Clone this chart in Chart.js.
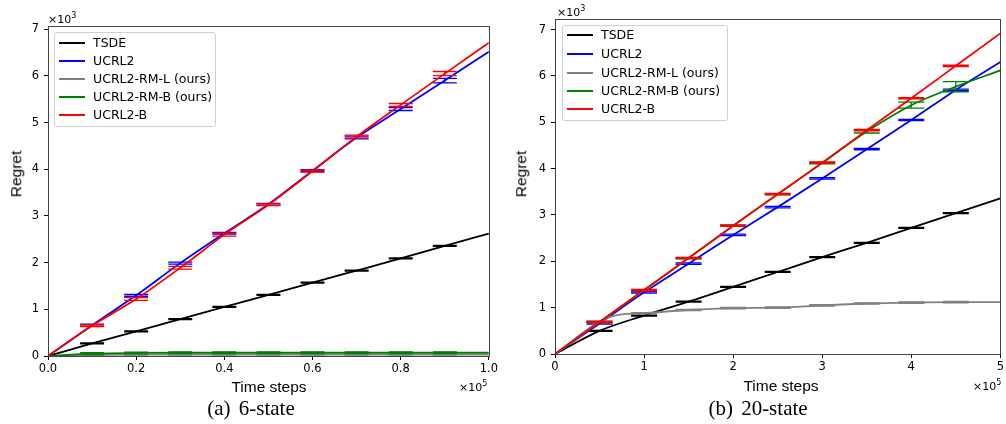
<!DOCTYPE html>
<html>
<head>
<meta charset="utf-8">
<script src="https://cdn.jsdelivr.net/npm/chart.js@4.4.0/dist/chart.umd.min.js"></script>
<style>
  body { margin: 0; width: 1006px; height: 424px; background: #fff; position: relative; overflow: hidden; font-family: "DejaVu Sans", sans-serif; }
  .cv { position: absolute; top: 0; }
  .t { position: absolute; white-space: nowrap; line-height: 1; transform: translate(-50%, -50%); color: #000; }
  .lab { font-family: "Liberation Sans", Arial, sans-serif; font-size: 15.5px; }
  .rot { transform: translate(-50%, -50%) rotate(-90deg); }
  .cap { font-family: "Liberation Serif", "Times New Roman", serif; font-size: 21px; word-spacing: 3px; }
  .exp { position: absolute; font-size: 11px; line-height: 1; white-space: nowrap; }
  .exp sup { font-size: 8px; vertical-align: 5px; }
  .legend { position: absolute; background: rgba(255,255,255,0.85); border: 1px solid #d0d0d0; border-radius: 3px; font-size: 12.5px; box-sizing: border-box; }
  .legend .row { position: absolute; left: 0; height: 18px; line-height: 18px; white-space: nowrap; }
  .legend .sw { position: absolute; left: 4px; top: 8px; width: 26px; height: 2px; }
  .legend .tx { position: absolute; left: 38px; top: 0; }
</style>
</head>
<body>
<canvas id="c6" class="cv" style="left:0px" width="500" height="424"></canvas>
<canvas id="c20" class="cv" style="left:500px" width="506" height="424"></canvas>

<div class="exp" style="left:48px;top:12px">×10<sup>3</sup></div>
<div class="exp" style="left:557px;top:5px">×10<sup>3</sup></div>
<div class="exp" style="left:459px;top:380px">×10<sup>5</sup></div>
<div class="exp" style="left:973px;top:379px">×10<sup>5</sup></div>

<div class="t lab rot" style="left:16px;top:174px">Regret</div>
<div class="t lab rot" style="left:521px;top:174px">Regret</div>
<div class="t lab" style="left:269px;top:387px">Time steps</div>
<div class="t lab" style="left:781px;top:386px">Time steps</div>
<div class="t cap" style="left:251px;top:408px">(a) 6-state</div>
<div class="t cap" style="left:758px;top:408px">(b) 20-state</div>

<div id="leg6" class="legend" style="left:54px;top:32px;width:162px;height:95px"></div>
<div id="leg20" class="legend" style="left:562px;top:25px;width:166px;height:96px"></div>

<script>
// series names and colours (same order in both panels)
const NAMES = ["TSDE", "UCRL2", "UCRL2-RM-L (ours)", "UCRL2-RM-B (ours)", "UCRL2-B"];
const COLORS = ["#000000", "#0000ff", "#808080", "#008000", "#ff0000"];

// ---------- (a) 6-state : x in 1e5 steps, y in 1e3 regret ----------
const steps6 = [0, 0.1, 0.2, 0.3, 0.4, 0.5, 0.6, 0.7, 0.8, 0.9, 1.0];
const tsde6  = [0, 0.27, 0.53, 0.79, 1.05, 1.31, 1.57, 1.83, 2.09, 2.36, 2.62];
const ucrl6  = [0, 0.66, 1.30, 1.99, 2.63, 3.25, 3.97, 4.68, 5.29, 5.90, 6.52];
const rml6   = [0, 0.025, 0.03, 0.03, 0.03, 0.03, 0.03, 0.03, 0.03, 0.03, 0.03];
const rmb6   = [0, 0.05, 0.065, 0.07, 0.07, 0.07, 0.07, 0.07, 0.07, 0.07, 0.07];
const ucrlb6 = [0, 0.65, 1.22, 1.89, 2.60, 3.24, 3.96, 4.70, 5.38, 6.05, 6.71];
const tsde6Err  = [null, 0.01, 0.01, 0.01, 0.01, 0.01, 0.01, 0.01, 0.01, 0.01, null];
const ucrl6Err  = [null, 0.02, 0.02, 0.02, 0.02, 0.02, 0.02, 0.03, 0.03, 0.05, null];
const rml6Err   = [null, 0.01, 0.01, 0.01, 0.01, 0.01, 0.01, 0.01, 0.01, 0.01, null];
const rmb6Err   = [null, 0.02, 0.02, 0.02, 0.02, 0.02, 0.02, 0.02, 0.02, 0.02, null];
const ucrlb6Err = [null, 0.02, 0.03, 0.03, 0.03, 0.02, 0.02, 0.03, 0.03, 0.045, null];
const xTicks6 = [0, 0.2, 0.4, 0.6, 0.8, 1.0];
const yTicks6 = [0, 1, 2, 3, 4, 5, 6, 7];

// ---------- (b) 20-state : x in 1e5 steps, y in 1e3 regret ----------
const steps20 = [0, 0.5, 1, 1.5, 2, 2.5, 3, 3.5, 4, 4.5, 5];
const tsde20  = [0, 0.50, 0.83, 1.13, 1.45, 1.77, 2.09, 2.40, 2.72, 3.04, 3.36];
const ucrl20  = [0, 0.66, 1.33, 1.95, 2.57, 3.17, 3.79, 4.42, 5.05, 5.70, 6.30];
const rmb20   = [0, 0.69, 1.38, 2.07, 2.77, 3.45, 4.12, 4.80, 5.37, 5.77, 6.12];
const ucrlb20 = [0, 0.69, 1.38, 2.07, 2.77, 3.45, 4.13, 4.83, 5.52, 6.22, 6.92];
const rmlSteps20 = [0, 0.5, 0.65, 1, 1.5, 2, 2.5, 3, 3.5, 4, 4.5, 5];
const rml20      = [0, 0.70, 0.82, 0.88, 0.95, 0.99, 1.00, 1.05, 1.09, 1.11, 1.12, 1.12];
const tsde20Err  = [null, 0.01, 0.01, 0.01, 0.01, 0.01, 0.01, 0.01, 0.01, 0.01, null];
const ucrl20Err  = [null, 0.015, 0.015, 0.015, 0.015, 0.015, 0.015, 0.015, 0.015, 0.015, null];
const rml20Err   = [null, 0.015, null, 0.015, 0.015, 0.015, 0.015, 0.015, 0.015, 0.015, 0.015, null];
const rmb20Err   = [null, 0.01, 0.01, 0.01, 0.01, 0.01, 0.015, 0.03, 0.065, 0.11, null];
const ucrlb20Err = [null, 0.015, 0.015, 0.015, 0.015, 0.015, 0.015, 0.015, 0.015, 0.015, null];
const xTicks20 = [0, 1, 2, 3, 4, 5];
const yTicks20 = [0, 1, 2, 3, 4, 5, 6, 7];

// error bars drawn right after each line, so they share its stacking
const errorBars = {
  id: "errorBars",
  afterDatasetDraw(chart, args, opts) {
    const ds = chart.data.datasets[args.index];
    if (!ds.err) return;
    const ctx = chart.ctx, xs = chart.scales.x, ys = chart.scales.y;
    ctx.save();
    ctx.strokeStyle = ds.borderColor;
    ctx.lineWidth = 1.3;
    ds.data.forEach((p, i) => {
      const e = ds.err[i];
      if (e == null) return;
      const px = xs.getPixelForValue(p.x);
      const hi = ys.getPixelForValue(p.y + e);
      const lo = ys.getPixelForValue(p.y - e);
      ctx.beginPath();
      ctx.moveTo(px, hi); ctx.lineTo(px, lo);
      ctx.moveTo(px - opts.cap, hi); ctx.lineTo(px + opts.cap, hi);
      ctx.moveTo(px - opts.cap, lo); ctx.lineTo(px + opts.cap, lo);
      ctx.stroke();
    });
    ctx.restore();
  }
};

const frame = {
  id: "frame",
  afterDraw(chart) {
    const a = chart.chartArea, ctx = chart.ctx;
    ctx.save();
    ctx.strokeStyle = "#444";
    ctx.lineWidth = 1;
    ctx.strokeRect(Math.round(a.left) + 0.5, Math.round(a.top) + 0.5, Math.round(a.right - a.left), Math.round(a.bottom - a.top));
    ctx.restore();
  }
};

function series(xs, ys, errs, i) {
  return {
    label: NAMES[i],
    data: xs.map((x, k) => ({ x: x, y: ys[k] })),
    err: errs,
    borderColor: COLORS[i],
    backgroundColor: COLORS[i],
    borderWidth: 1.8,
    pointRadius: 0,
    cubicInterpolationMode: "monotone",
    order: 4 - i
  };
}

function makeChart(id, datasets, cfg) {
  const tickFont = { family: "DejaVu Sans", size: 11.5 };
  new Chart(document.getElementById(id), {
    type: "line",
    data: { datasets: datasets },
    options: {
      responsive: false,
      animation: false,
      events: [],
      layout: { padding: { top: cfg.top, right: cfg.right, left: 0, bottom: 0 } },
      plugins: { legend: { display: false }, tooltip: { enabled: false }, errorBars: { cap: cfg.cap } },
      scales: {
        x: {
          type: "linear", min: cfg.xMin, max: cfg.xMax,
          afterFit: s => { s.height = cfg.xH; },
          afterBuildTicks: s => { s.ticks = cfg.xTicks.map(v => ({ value: v })); },
          ticks: { font: tickFont, color: "#000", padding: 2, maxRotation: 0, callback: cfg.xFmt },
          grid: { drawOnChartArea: false, drawTicks: true, tickLength: 4, color: "#000" },
          border: { display: false }
        },
        y: {
          type: "linear", min: 0, max: cfg.yMax,
          afterFit: s => { s.width = cfg.yW; },
          afterBuildTicks: s => { s.ticks = cfg.yTicks.map(v => ({ value: v })); },
          ticks: { font: tickFont, color: "#000", padding: 5, callback: v => String(v) },
          grid: { drawOnChartArea: false, drawTicks: true, tickLength: 4, color: "#000" },
          border: { display: false }
        }
      }
    },
    plugins: [errorBars, frame]
  });
}

makeChart("c6", [
  series(steps6, tsde6, tsde6Err, 0),
  series(steps6, ucrl6, ucrl6Err, 1),
  series(steps6, rml6, rml6Err, 2),
  series(steps6, rmb6, rmb6Err, 3),
  series(steps6, ucrlb6, ucrlb6Err, 4)
], { top: 26, right: 10, xH: 68, yW: 48, xMin: 0, xMax: 1, yMax: 7.07, cap: 12,
     xTicks: xTicks6, yTicks: yTicks6, xFmt: v => Number(v).toFixed(1) });

makeChart("c20", [
  series(steps20, tsde20, tsde20Err, 0),
  series(steps20, ucrl20, ucrl20Err, 1),
  series(rmlSteps20, rml20, rml20Err, 2),
  series(steps20, rmb20, rmb20Err, 3),
  series(steps20, ucrlb20, ucrlb20Err, 4)
], { top: 19, right: 1, xH: 70, yW: 55, xMin: 0, xMax: 5, yMax: 7.23, cap: 13,
     xTicks: xTicks20, yTicks: yTicks20, xFmt: v => String(v) });

// legends
function buildLegend(id, rowTops) {
  const box = document.getElementById(id);
  NAMES.forEach((n, i) => {
    const row = document.createElement("div");
    row.className = "row";
    row.style.top = rowTops[i] + "px";
    row.innerHTML = '<span class="sw" style="background:' + COLORS[i] + '"></span><span class="tx">' + n + '</span>';
    box.appendChild(row);
  });
}
buildLegend("leg6", [1, 19, 37, 55, 73]);
buildLegend("leg20", [0, 19, 38, 56, 74]);
</script>
</body>
</html>
